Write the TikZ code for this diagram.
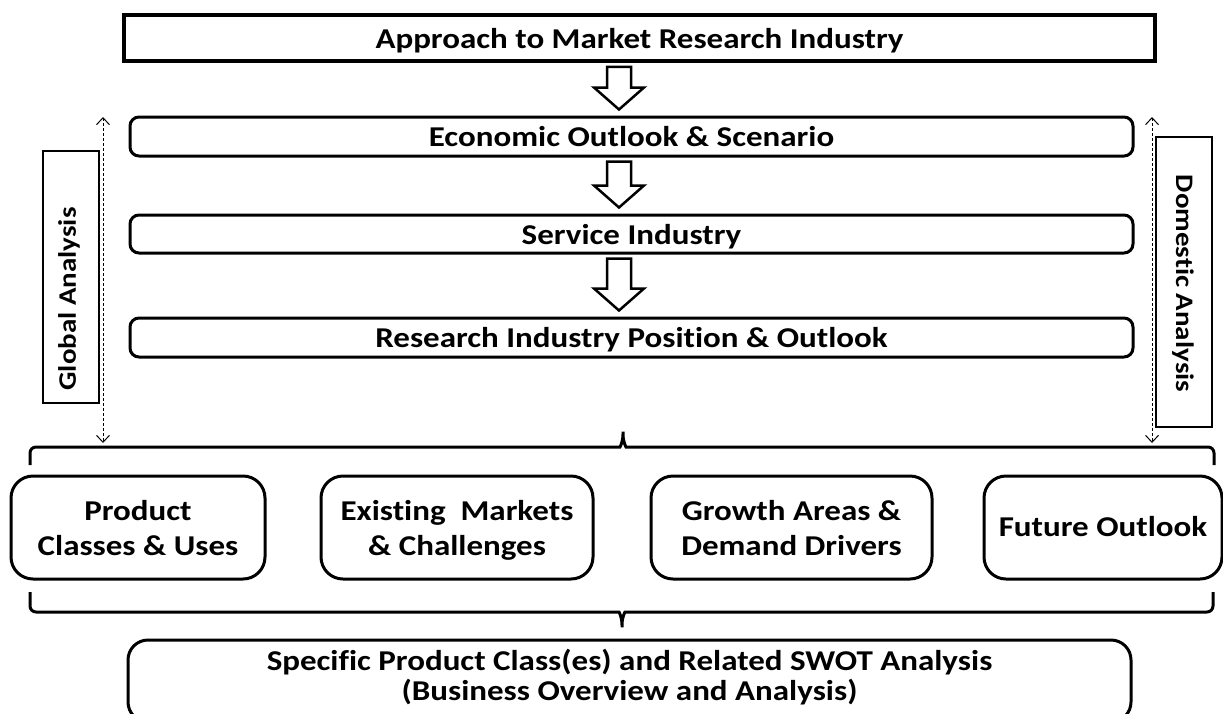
\documentclass[tikz,border=0pt]{standalone}
\usepackage{fontspec}
\setmainfont[Ligatures=NoCommon, FakeStretch=1.15]{Carlito}
\usetikzlibrary{arrows.meta,calc}
\newcommand{\hstrut}[1]{\rule{0pt}{#1}}
\newcommand{\dstrut}[1]{\rule[-#1]{0pt}{#1}}
\begin{document}
\begin{tikzpicture}[x=1pt,y=-1pt,
  every node/.style={font=\bfseries\fontsize{28.7}{35}\selectfont, inner sep=0pt, align=center},
  topbox/.style={draw, line width=3.5pt, minimum width=1031pt, minimum height=46pt, text height=24pt, text depth=4pt},
  rowbox/.style={draw, line width=3pt, rounded corners=9pt, minimum width=1003pt, minimum height=39pt, text height=24pt, text depth=3.6pt},
  gridbox/.style={draw, line width=3pt, rounded corners=22pt, minimum height=103pt},
  specbox/.style={draw, line width=3pt, rounded corners=20pt, minimum width=1003pt, minimum height=82pt, font=\bfseries\fontsize{28.7}{30}\selectfont},
  sidebox/.style={draw, line width=1.3pt, minimum width=56pt},
  sidelabel/.style={font=\bfseries\fontsize{25.2}{30}\selectfont},
  bracepath/.style={line width=3pt, rounded corners=6pt},
  blockarrow/.style={draw, line width=2.5pt, fill=white, line join=miter},
  dasharrow/.style={line width=1pt, dash pattern=on 3pt off 2pt, {Straight Barb[length=7pt,width=13pt]}-{Straight Barb[length=7pt,width=13pt]}}
]
\clip (0,0) rectangle (1223,713);
\fill[white] (0,0) rectangle (1223,713);

% main column
\node[topbox] (top) at (639.5,38) {Approach to Market Research Industry};
\node[rowbox] (econ) at (631.5,136.5) {Economic Outlook \& Scenario};
\node[rowbox, minimum height=38pt] (serv) at (631.5,234) {Service Industry};
\node[rowbox] (res) at (631.5,337.5) {Research Industry Position \& Outlook};

% side labels
\node[sidebox, minimum height=252pt] (gbox) at (71,277) {};
\node[sidelabel, rotate=90] (gtext) at (69,299) {Global Analysis};
\node[sidebox, minimum height=290pt] (dbox) at (1184,282) {};
\node[sidelabel, rotate=-90] (dtext) at (1183,283.5) {Domestic Analysis};

% dashed arrows
\coordinate (gup) at (103,117);
\coordinate (gdown) at (103,443);
\coordinate (dup) at (1152,117);
\coordinate (ddown) at (1152,443);
\draw[dasharrow] (gup) -- (gdown);
\draw[dasharrow] (dup) -- (ddown);

% block arrows
\newcommand{\blkarr}[2]{%
  \draw[blockarrow] let \p1=(#1.south), \p2=(#2.north) in
    (607pt,\y1-4pt) -- (607pt,\y2+28pt) -- (594pt,\y2+28pt) -- (619pt,\y2+6pt)
    -- (644pt,\y2+28pt) -- (631pt,\y2+28pt) -- (631pt,\y1-4pt) -- cycle;}
\blkarr{top}{econ}
\blkarr{econ}{serv}
\blkarr{serv}{res}

% top brace
\coordinate (tb) at (623,428);
\draw[bracepath] (30,465) |- (614,447)
  .. controls (620,447) and (623,442) .. (tb)
  .. controls (623,442) and (626,447) .. (632,447) -| (1214,465);

% grid boxes
\node[gridbox, minimum width=254pt] (prod) at (138,527.5) {\hstrut{30pt}Product\\Classes \& Uses\dstrut{10pt}};
\node[gridbox, minimum width=272pt] (exist) at (457,527.5) {\hstrut{30pt}Existing~ Markets\\\& Challenges\dstrut{10pt}};
\node[gridbox, minimum width=281pt] (grow) at (791.5,527.5) {\hstrut{30pt}Growth Areas \&\\Demand Drivers\dstrut{10pt}};
\node[gridbox, minimum width=238pt, text height=24pt, text depth=5.6pt] (fut) at (1103,527.5) {Future Outlook};

% bottom brace
\coordinate (bb) at (622,631);
\draw[bracepath] (30,592) |- (613,612)
  .. controls (619,612) and (622,617) .. (bb)
  .. controls (622,617) and (625,612) .. (631,612) -| (1213,592);

% bottom box
\node[specbox] (spec) at (629.5,681) {\hstrut{22pt}Specific Product Class(es) and Related SWOT Analysis\\(Business Overview and Analysis)\dstrut{14pt}};
\end{tikzpicture}
\end{document}
